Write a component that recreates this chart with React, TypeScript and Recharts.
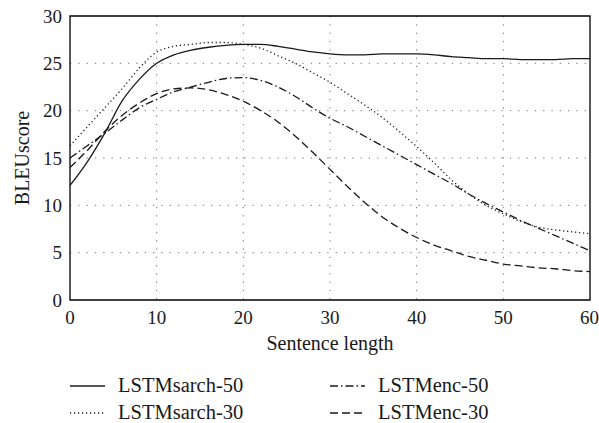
import { LineChart, Line, XAxis, YAxis, CartesianGrid, ReferenceArea, Legend } from "recharts";

const sentenceLength = [0, 2, 4, 6, 8, 10, 12, 14, 16, 18, 20, 22, 24, 26, 28, 30, 32, 34, 36, 38, 40, 42, 44, 46, 48, 50, 52, 54, 56, 58, 60];

const sarch50 = [12.1, 14.6, 17.6, 21.0, 23.3, 25.0, 25.9, 26.4, 26.7, 26.9, 27.0, 27.0, 26.8, 26.5, 26.2, 26.0, 25.9, 25.9, 26.0, 26.0, 26.0, 25.9, 25.7, 25.6, 25.5, 25.5, 25.4, 25.4, 25.4, 25.5, 25.5];
const sarch30 = [16.3, 18.3, 20.3, 22.3, 24.5, 26.2, 26.8, 27.0, 27.2, 27.2, 27.0, 26.6, 25.8, 25.0, 24.0, 23.0, 21.8, 20.6, 19.3, 17.8, 16.2, 14.5, 12.7, 11.2, 10.0, 9.1, 8.3, 7.7, 7.4, 7.2, 7.0];
const enc50 = [15.0, 16.3, 17.6, 19.0, 20.3, 21.2, 22.0, 22.5, 23.0, 23.4, 23.5, 23.2, 22.5, 21.5, 20.3, 19.2, 18.3, 17.3, 16.3, 15.3, 14.3, 13.3, 12.3, 11.2, 10.2, 9.3, 8.4, 7.6, 6.8, 6.0, 5.2];
const enc30 = [14.0, 15.8, 17.8, 19.5, 20.8, 21.8, 22.3, 22.4, 22.2, 21.7, 21.0, 20.0, 18.8, 17.3, 15.6, 13.8, 12.0, 10.3, 8.8, 7.6, 6.6, 5.8, 5.2, 4.6, 4.2, 3.8, 3.6, 3.4, 3.3, 3.1, 3.0];

const xTicks = [0, 10, 20, 30, 40, 50, 60];
const yTicks = [0, 5, 10, 15, 20, 25, 30];

const data = sentenceLength.map((len, i) => ({
  len,
  sarch50: sarch50[i],
  sarch30: sarch30[i],
  enc50: enc50[i],
  enc30: enc30[i],
}));

const series = [
  { key: "sarch50", name: "LSTMsarch-50", dash: undefined },
  { key: "sarch30", name: "LSTMsarch-30", dash: "1.2 2.8" },
  { key: "enc50", name: "LSTMenc-50", dash: "8 3 1.5 3" },
  { key: "enc30", name: "LSTMenc-30", dash: "8 4" },
];

const FONT = "Liberation Serif";
const INK = "#1a1a1a";

function LegendBox() {
  const order = [series[0], series[2], series[1], series[3]];
  return (
    <div style={{ display: "grid", gridTemplateColumns: "260px 260px", paddingLeft: 70, fontFamily: FONT, fontSize: 20.5, color: INK }}>
      {order.map((s) => (
        <div key={s.key} style={{ display: "flex", alignItems: "center", height: 27 }}>
          <svg width={35} height={10} style={{ marginRight: 13 }}>
            <line x1={0} y1={5} x2={35} y2={5} stroke={INK} strokeWidth={1.3} strokeDasharray={s.dash} />
          </svg>
          <span>{s.name}</span>
        </div>
      ))}
    </div>
  );
}

export default function App() {
  return (
    <div style={{ position: "absolute", left: 0, top: 0, width: 599, height: 423, background: "#fff", fontFamily: FONT }}>
      <LineChart width={599} height={423} data={data} margin={{ top: 16, right: 9, left: 40, bottom: 93 }} style={{ fontFamily: FONT }}>
        <CartesianGrid stroke="#777" strokeDasharray="1.3 7" verticalValues={[10, 20, 30, 40, 50]} horizontalValues={[5, 10, 15, 20, 25]} />
        <XAxis
          dataKey="len"
          type="number"
          domain={[0, 60]}
          ticks={xTicks}
          height={30}
          axisLine={false}
          tickLine={false}
          tickMargin={5}
          tick={{ fill: INK, fontSize: 19, fontFamily: FONT }}
          label={{ value: "Sentence length", position: "bottom", offset: 6, fill: INK, fontSize: 20, fontFamily: FONT }}
        />
        <YAxis
          type="number"
          domain={[0, 30]}
          ticks={yTicks}
          width={30}
          axisLine={false}
          tickLine={false}
          tick={{ fill: INK, fontSize: 19, fontFamily: FONT }}
          label={{ value: "BLEUscore", angle: -90, position: "insideLeft", dx: -23, fill: INK, fontSize: 20, fontFamily: FONT, style: { textAnchor: "middle" } }}
        />
        <ReferenceArea x1={0} x2={60} y1={0} y2={30} fill="none" stroke="#000" strokeWidth={1.3} />
        {series.map((s) => (
          <Line
            key={s.key}
            type="monotone"
            dataKey={s.key}
            name={s.name}
            stroke={INK}
            strokeWidth={1.3}
            strokeDasharray={s.dash}
            dot={false}
            activeDot={false}
            isAnimationActive={false}
          />
        ))}
        <Legend layout="horizontal" verticalAlign="middle" align="center" wrapperStyle={{ top: 372, left: 0, width: 599 }} content={() => <LegendBox />} />
      </LineChart>
    </div>
  );
}
